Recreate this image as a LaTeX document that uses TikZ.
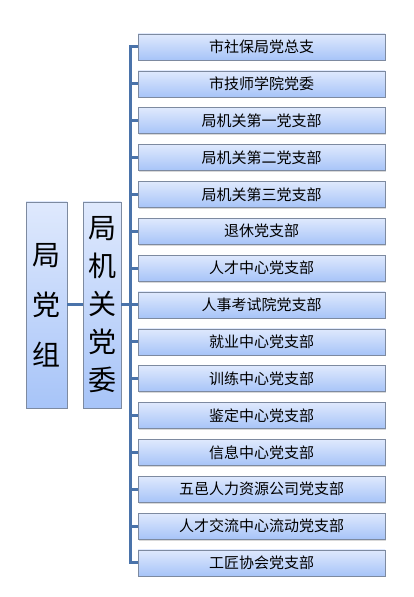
\documentclass[tikz,border=0pt]{standalone}
\usepackage{fontspec}
\setmainfont{Noto Sans CJK SC}
\usetikzlibrary{positioning,shadows}

\definecolor{boxtop}{HTML}{DFE9FD}
\definecolor{boxbot}{HTML}{A7C4F8}
\definecolor{boxline}{HTML}{7D8AA0}
\definecolor{linkblue}{HTML}{4A73AA}

\begin{document}
\begin{tikzpicture}[
    x=1pt, y=1pt,
    node distance=10.45pt and 0pt,
    unit/.style={rectangle, draw=boxline, top color=boxtop, bottom color=boxbot,
      minimum width=247pt, minimum height=26pt, inner sep=0pt,
      font=\fontsize{15}{17}\selectfont,
      drop shadow={shadow xshift=1pt, shadow yshift=-1.5pt, opacity=0.3}},
    tall/.style={unit, minimum height=206pt, align=center},
    link/.style={draw=linkblue, line width=3pt}
  ]
    \useasboundingbox (0,0) rectangle (414,597);

    % Left column
    \node[tall, minimum width=41pt, font=\fontsize{28}{50}\selectfont] (jdz) at (46.5,292) {局\\党\\组};
    \node[tall, minimum width=38pt, font=\fontsize{28}{38}\selectfont] (jgdw) at (102,292) {局\\机\\关\\党\\委};
    \coordinate (bus) at (130,0);

    % Branch units
    \node[unit] (u1) at (261.5,550) {市社保局党总支};
    \node[unit, below=of u1] (u2) {市技师学院党委};
    \node[unit, below=of u2] (u3) {局机关第一党支部};
    \node[unit, below=of u3] (u4) {局机关第二党支部};
    \node[unit, below=of u4] (u5) {局机关第三党支部};
    \node[unit, below=of u5] (u6) {退休党支部};
    \node[unit, below=of u6] (u7) {人才中心党支部};
    \node[unit, below=of u7] (u8) {人事考试院党支部};
    \node[unit, below=of u8] (u9) {就业中心党支部};
    \node[unit, below=of u9] (u10) {训练中心党支部};
    \node[unit, below=of u10] (u11) {鉴定中心党支部};
    \node[unit, below=of u11] (u12) {信息中心党支部};
    \node[unit, below=of u12] (u13) {五邑人力资源公司党支部};
    \node[unit, below=of u13] (u14) {人才交流中心流动党支部};
    \node[unit, below=of u14] (u15) {工匠协会党支部};

    % Connectors
    \draw[link] (jdz.east) -- (jgdw.west);
    \draw[link] (jgdw.east) -- (bus |- jgdw.east);
    \draw[link] ([yshift=1.5pt]bus |- u1.west) -- ([yshift=-1.5pt]bus |- u15.west);
    \foreach \n in {1,...,15}
      \draw[link] (bus |- u\n.west) -- (u\n.west);
  \end{tikzpicture}
\end{document}
